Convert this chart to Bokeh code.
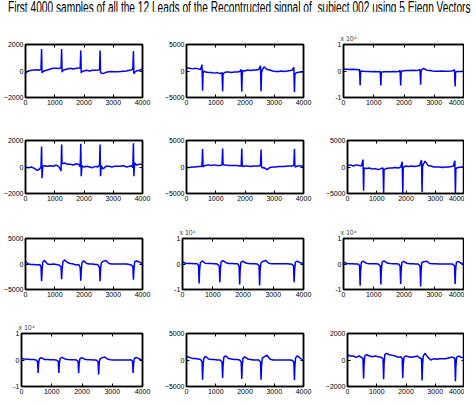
from bokeh.plotting import figure
from bokeh.layouts import column, row
from bokeh.models import Div, Title, FixedTicker, Range1d, LinearAxis
from bokeh.embed import file_html
from bokeh.resources import INLINE

TITLE = "First 4000 samples of all the 12 Leads of the Recontructed signal of&nbsp; subject 002 using 5 Eiegn Vectors"

# sample positions (shared by all leads)
X = [0, 100, 200, 300, 400, 480,
     530, 550, 565, 590, 650, 750,
     850, 950, 1050, 1150,
     1215, 1235, 1250, 1275, 1335, 1435,
     1535, 1635, 1735, 1820,
     1870, 1890, 1905, 1930, 1990, 2090,
     2190, 2290, 2390, 2470,
     2530, 2550, 2565, 2590, 2650, 2750,
     2850, 2950, 3050, 3150, 3250, 3350, 3450, 3550, 3620,
     3670, 3690, 3705, 3730, 3790, 3890,
     3995]

lead1 = [-150, 0, 50, 80, 100, 60,
         120, 1650, -150, -50, 20, 80,
         150, 200, 200, 180,
         250, 1650, -100, 50, 100, 150,
         200, 150, 200, 220,
         250, 1550, -150, -50, 0, 50,
         0, 50, 60, 80,
         100, 1550, -100, -150, -200, -100,
         -50, -30, -50, -50, -40, -20, 0, 50, 80,
         150, 1500, -200, -100, 0, 50,
         150]
lead2 = [600, 500, 400, 500, 400, 300,
         1200, -3700, -500, 0, -200, -300,
         -300, -400, -300, -500,
         -300, -3800, -600, -400, -200, -200,
         -300, -200, -200, -100,
         300, -3900, -500, 100, 0, 200,
         100, 200, 200, 300,
         1000, -3800, -400, 200, 800, 300,
         200, 0, -100, -100, 0, -100, 0, 100, 200,
         700, -4000, -700, -400, -300, -200,
         -200]
lead3 = [800, 700, 600, 700, 600, 500,
         600, -5500, -300, 0, -100, -200,
         -200, -300, -200, -300,
         -200, -5500, -600, -400, -300, -300,
         -300, -200, -300, -200,
         200, -5500, -600, 0, 100, 200,
         200, 300, 200, 300,
         500, -5200, -200, 500, 1000, 300,
         200, 0, -100, -100, 0, -100, -100, 0, 100,
         500, -5800, -600, -300, -200, -200,
         -100]
lead4 = [0, -50, 0, -100, -250, -150,
         0, 1550, -850, 50, 100, 50,
         100, 50, 150, 0,
         -300, 1700, 300, 250, 300, 200,
         200, 150, 250, 200,
         0, 1750, -700, 100, 0, 50,
         0, -50, 50, 0,
         150, 1700, -700, 100, -150, 50,
         50, 0, 50, 50, 50, 100, 0, 50, 100,
         -50, 1800, -700, 300, 150, 200,
         200]
lead5 = [-100, -100, 0, 0, 100, 100,
         200, 3400, 0, 200, 300, 400,
         300, 400, 300, 300,
         400, 3500, 500, 400, 400, 300,
         300, 300, 300, 200,
         200, 3500, 200, 100, 200, 200,
         100, 200, 200, 200,
         300, 3300, 100, -200, -100, -500,
         -100, 0, 0, 100, 100, 100, 200, 200, 200,
         300, 3400, 200, 0, 200, 200,
         200]
lead6 = [300, 400, 200, 400, 300, 200,
         1400, -4500, -400, -200, -300, -200,
         -400, -300, -500, -300,
         -200, -4900, -600, -400, -300, -200,
         -200, -100, -200, 0,
         1000, -4900, -200, 0, 200, 100,
         200, 100, 200, 300,
         1300, -4700, 0, 500, 1100, 300,
         200, 0, 0, 0, -100, 0, 0, 100, 200,
         1200, -4900, -400, -200, -100, 0,
         0]
lead7 = [500, 0, -100, -100, -200, -100,
         -500, -3400, -1500, 400, 700, 0,
         -100, 0, -100, -200,
         -600, -3000, -1200, 400, 800, 300,
         100, 0, -200, -100,
         -700, -3300, -1400, 300, 600, 100,
         0, 0, -100, -100,
         -700, -3400, -1200, 200, 500, 700,
         100, 0, 0, 0, 0, 0, 0, -100, -200,
         -500, -3100, -1300, 400, 600, 400,
         0]
lead8 = [800, 300, 200, 200, 100, 100,
         -500, -7600, -2500, 500, 1200, 300,
         200, 200, 100, 0,
         -800, -7100, -2500, 800, 1300, 500,
         200, 200, 100, 100,
         -800, -8000, -2500, 600, 1100, 400,
         200, 100, 100, 0,
         -700, -8400, -2800, 400, 1000, 1400,
         300, 100, 100, 100, 100, 100, 100, 0, -100,
         -700, -7100, -2400, 600, 1100, 500,
         200]
lead9 = [800, 200, 100, 100, 0, 0,
         -600, -8500, -2800, 600, 1100, 300,
         100, 100, 100, 0,
         -800, -8000, -2800, 700, 1200, 400,
         200, 100, 100, 0,
         -800, -7800, -2600, 600, 1000, 300,
         100, 100, 0, 0,
         -800, -8800, -2900, 500, 900, 1100,
         200, 100, 100, 0, 0, 0, 0, 0, -100,
         -800, -7800, -2600, 600, 1000, 300,
         100]
lead10 = [600, 400, 300, 200, 200, 0,
          -500, -4900, -1500, 400, 900, 200,
          200, 100, 100, 0,
          -500, -4900, -1500, 500, 1000, 400,
          200, 100, 100, 0,
          -500, -4900, -1500, 400, 900, 300,
          100, 100, 0, 0,
          -600, -5500, -1700, 300, 800, 1100,
          300, 100, 0, 0, 0, 0, 0, 0, 100,
          -500, -4900, -1500, 500, 1000, 400,
          0]
lead11 = [700, 500, 300, 300, 200, 100,
          -300, -3700, -1200, 300, 700, 200,
          100, 100, 0, 0,
          -400, -3400, -1100, 500, 800, 300,
          200, 100, 100, 0,
          -400, -3600, -1100, 300, 600, 200,
          100, 0, 0, 0,
          -400, -3700, -1200, 300, 600, 900,
          200, 0, 0, 0, 0, 0, 0, 0, -100,
          -400, -3800, -1200, 400, 800, 300,
          0]
lead12 = [400, 300, 300, 200, 300, 200,
          100, -1400, -400, 300, 400, 300,
          250, 300, 250, 200,
          100, -1450, -300, 400, 500, 400,
          350, 300, 200, 250,
          100, -1350, -400, 200, 300, 250,
          200, 250, 300, 150,
          100, -1550, -400, 300, 500, 200,
          0, 100, 50, 100, 100, 100, 150, 200, 200,
          100, -1600, -500, 200, 300, 200,
          150]

LEADS = [lead1, lead2, lead3, lead4, lead5, lead6,
         lead7, lead8, lead9, lead10, lead11, lead12]
LIMITS = [2000, 5000, 10000, 2000, 5000, 5000,
          5000, 10000, 10000, 10000, 5000, 2000]
X_TICKS = [0, 1000, 2000, 3000, 4000]

FONT = "Liberation Sans"

COL_W = [161, 161, 142]
COL_RB = [19, 19, 0]
ROW_H = [96, 96, 96, 98]
ROW_TB = [33, 33, 35, 34]
TITLE_H = 11


def style_axis(ax, labels=True):
    ax.axis_line_color = "black"
    ax.axis_line_width = 1.5
    ax.major_tick_line_color = "black"
    ax.major_tick_in = 3
    ax.major_tick_out = 0
    ax.minor_tick_line_color = None
    ax.major_label_text_font = FONT
    if labels:
        ax.major_label_text_font_size = "7px"
        ax.major_label_text_color = "black"
        ax.major_label_standoff = 2
    else:
        # mirrored tick marks only (MATLAB "box on"), labels not drawn
        ax.major_label_text_font_size = "1px"
        ax.major_label_text_color = None
        ax.major_label_standoff = 0


def make(idx):
    r, c = divmod(idx, 3)
    lim = LIMITS[idx]
    p = figure(width=COL_W[c], height=ROW_H[r], output_backend="svg",
               toolbar_location=None,
               x_range=Range1d(0, 4000), y_range=Range1d(-lim, lim),
               min_border_left=21, min_border_right=COL_RB[c],
               min_border_top=ROW_TB[r],
               min_border_bottom=ROW_H[r] - ROW_TB[r] - 53)
    p.line(X, LEADS[idx], line_color="#0000ff", line_width=1.5)
    p.xgrid.visible = False
    p.ygrid.visible = False
    p.outline_line_color = "black"
    p.outline_line_width = 1.5
    p.xaxis.ticker = FixedTicker(ticks=X_TICKS)
    p.yaxis.ticker = FixedTicker(ticks=[-lim, 0, lim])
    style_axis(p.xaxis[0])
    style_axis(p.yaxis[0])
    top = LinearAxis(ticker=FixedTicker(ticks=X_TICKS))
    right = LinearAxis(ticker=FixedTicker(ticks=[-lim, 0, lim]))
    style_axis(top, labels=False)
    style_axis(right, labels=False)
    p.add_layout(top, "above")
    p.add_layout(right, "right")
    if lim == 10000:
        p.yaxis[0].major_label_overrides = {-10000: "-1", 0: "0", 10000: "1"}
        p.add_layout(Title(text="x 10\u2074", align="left", text_font_size="7px",
                           text_font_style="normal", text_font=FONT,
                           standoff=5, offset=-3), "above")
    p.background_fill_color = "white"
    p.border_fill_color = "white"
    return p


figs = [make(i) for i in range(12)]
title_html = (
    '<span style="display:inline-block;white-space:nowrap;font-family:\'Liberation Sans\';'
    'font-size:16px;line-height:16px;color:#000;position:relative;left:7px;'
    'transform:scaleX(0.635);transform-origin:center;">%s</span>' % TITLE
)
title = Div(text=title_html, width=464, height=TITLE_H, margin=0,
            styles={"display": "flex", "justify-content": "center",
                    "width": "464px", "height": "%dpx" % TITLE_H,
                    "overflow": "visible"})
layout = column(title,
                row(*figs[0:3]), row(*figs[3:6]),
                row(*figs[6:9]), row(*figs[9:12]))

open("out.html", "w").write(file_html(layout, INLINE))
